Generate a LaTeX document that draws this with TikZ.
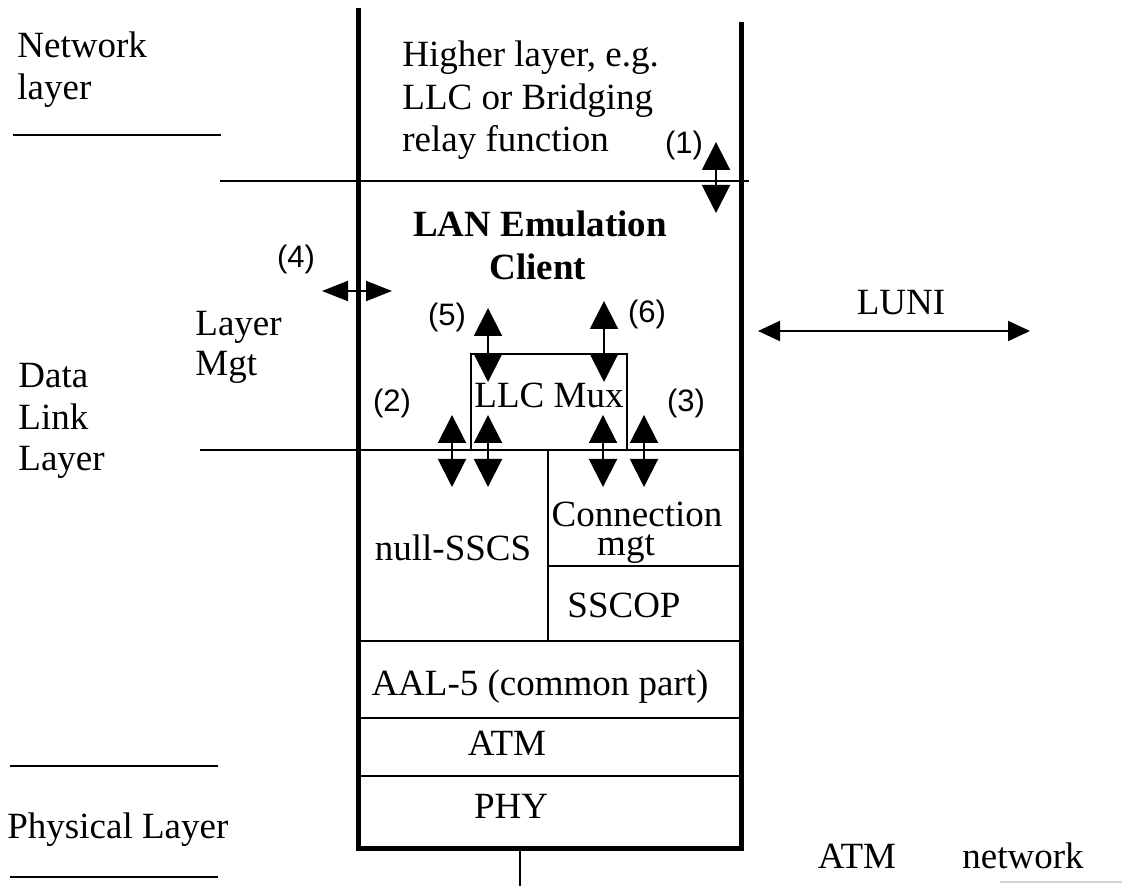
\documentclass[tikz,border=0pt]{standalone}
\usepackage{fontspec}
\setmainfont{Liberation Serif}
\newfontfamily\labfont{Liberation Sans}
\usetikzlibrary{arrows.meta}
\begin{document}
\begin{tikzpicture}[x=0.5pt,y=-0.5pt,
  txt/.style={font=\fontsize{18.5}{21}\selectfont, inner sep=0pt, anchor=base},
  ltxt/.style={txt, anchor=base west},
  btxt/.style={txt, font=\fontsize{18.5}{21}\selectfont\bfseries},
  num/.style={font=\labfont\fontsize{15.5}{17}\selectfont, inner sep=0pt, anchor=base},
  frame/.style={line width=2.5pt},
  rule/.style={line width=1pt},
  dblv/.style={line width=1pt, {Triangle[length=14pt,width=14pt]}-{Triangle[length=14pt,width=14pt]}},
  dblh/.style={line width=1pt, {Triangle[length=13pt,width=10pt]}-{Triangle[length=13pt,width=10pt]}},
  luni/.style={line width=1pt, {Triangle[length=11pt,width=10pt]}-{Triangle[length=11pt,width=10pt]}},
]
\useasboundingbox (0,0) rectangle (1122,886);

% frame of the stack
\coordinate (ftl) at (358,8);
\coordinate (fbl) at (358,848);
\coordinate (fbr) at (741,848);
\coordinate (ftr) at (741,22);
\draw[frame, line join=miter] (ftl) -- (fbl) -- (fbr) -- (ftr);

% horizontal rules
\coordinate (h1a) at (220,181); \coordinate (h1b) at (749,181);
\draw[rule] (h1a) -- (h1b);
\coordinate (h2a) at (200,450); \coordinate (h2b) at (741,450);
\draw[rule] (h2a) -- (h2b);
\coordinate (v1a) at (548,450); \coordinate (v1b) at (548,641);
\draw[rule] (v1a) -- (v1b);
\coordinate (h3a) at (548,566); \coordinate (h3b) at (741,566);
\draw[rule] (h3a) -- (h3b);
\coordinate (h4a) at (358,641); \coordinate (h4b) at (741,641);
\draw[rule] (h4a) -- (h4b);
\coordinate (h5a) at (358,718); \coordinate (h5b) at (741,718);
\draw[rule] (h5a) -- (h5b);
\coordinate (h6a) at (358,776); \coordinate (h6b) at (741,776);
\draw[rule] (h6a) -- (h6b);
\coordinate (stA) at (520,848); \coordinate (stB) at (520,886);
\draw[rule] (stA) -- (stB);

% left layer rules
\coordinate (n1a) at (13,135); \coordinate (n1b) at (221,135);
\draw[rule] (n1a) -- (n1b);
\coordinate (p1a) at (10,766); \coordinate (p1b) at (218,766);
\draw[rule] (p1a) -- (p1b);
\coordinate (p2a) at (10,877); \coordinate (p2b) at (218,877);
\draw[rule] (p2a) -- (p2b);
\coordinate (g1a) at (1000,882); \coordinate (g1b) at (1122,882);
\draw[gray!35, line width=0.6pt] (g1a) -- (g1b);

% LLC Mux box
\node[draw, rule, minimum width=78pt, minimum height=48pt, inner sep=0pt] (llcmux) at (549,402) {};
\node[txt] (llcmuxt) at (549,408) {LLC Mux};

% texts in the stack
\node[ltxt] (hl1) at (402,67) {Higher layer, e.g.};
\node[ltxt] (hl2) at (402,109.5) {LLC or Bridging};
\node[ltxt] (hl3) at (402,152) {relay function};
\node[btxt] (lec1) at (540,237) {LAN Emulation};
\node[btxt] (lec2) at (538,280) {Client};
\node[txt] (nsscs) at (453,560) {null-SSCS};
\node[txt] (conn1) at (637,526) {Connection};
\node[txt] (conn2) at (626,555) {mgt};
\node[txt] (sscop) at (624,617) {SSCOP};
\node[txt] (aal) at (540,695) {AAL-5 (common part)};
\node[txt] (atm) at (507,755) {ATM};
\node[txt] (phy) at (511,818) {PHY};

% left labels
\node[ltxt] (nl1) at (17,58) {Network};
\node[ltxt] (nl2) at (17,100) {layer};
\node[ltxt] (lm1) at (195,336) {Layer};
\node[ltxt] (lm2) at (195,376) {Mgt};
\node[ltxt] (dl1) at (18,388) {Data};
\node[ltxt] (dl2) at (18,430) {Link};
\node[ltxt] (dl3) at (18,471) {Layer};
\node[ltxt] (pl) at (7,838) {Physical Layer};

% right labels
\node[txt] (lunit) at (901,315) {LUNI};
\node[txt] (atmn) at (857,868) {ATM};
\node[txt] (netw) at (1023,868) {network};

% numbered labels
\node[num] (n1) at (684,154) {(1)};
\node[num] (n2) at (392,412) {(2)};
\node[num] (n3) at (686,412) {(3)};
\node[num] (n4) at (296,268) {(4)};
\node[num] (n5) at (447,326) {(5)};
\node[num] (n6) at (647,323) {(6)};

% arrows
\coordinate (a1t) at (716,142); \coordinate (a1b) at (716,213);
\draw[dblv] (a1t) -- (a1b);
\coordinate (a5t) at (488,308); \coordinate (a5b) at (488,382);
\draw[dblv] (a5t) -- (a5b);
\coordinate (a6t) at (604,301); \coordinate (a6b) at (604,382);
\draw[dblv] (a6t) -- (a6b);
\coordinate (a2t) at (452,415); \coordinate (a2b) at (452,487);
\draw[dblv] (a2t) -- (a2b);
\coordinate (a2ct) at (488,415); \coordinate (a2cb) at (488,487);
\draw[dblv] (a2ct) -- (a2cb);
\coordinate (a3t) at (603,415); \coordinate (a3b) at (603,487);
\draw[dblv] (a3t) -- (a3b);
\coordinate (a3ct) at (644,415); \coordinate (a3cb) at (644,487);
\draw[dblv] (a3ct) -- (a3cb);
\coordinate (a4l) at (322,291); \coordinate (a4r) at (392,291);
\draw[dblh] (a4l) -- (a4r);
\coordinate (lul) at (758,331); \coordinate (lur) at (1030,331);
\draw[luni] (lul) -- (lur);
\end{tikzpicture}
\end{document}
